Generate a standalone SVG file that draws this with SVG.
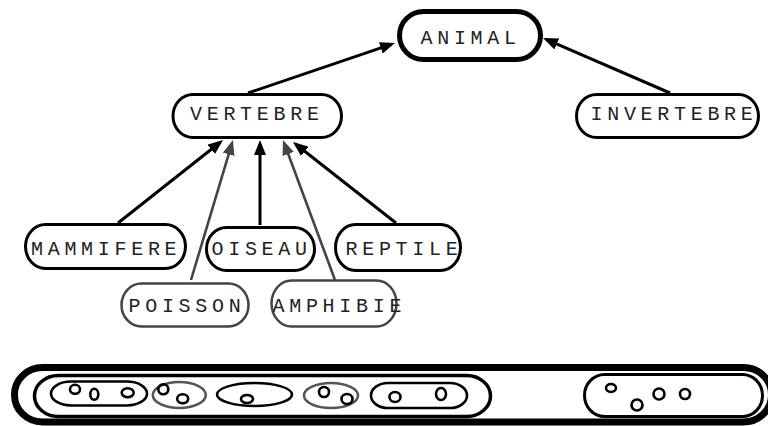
<svg xmlns="http://www.w3.org/2000/svg" width="768" height="426" viewBox="0 0 768 426">
<style>
.node{fill:#fff;stroke:#000;stroke-width:3}
.gnode{fill:#fff;stroke:#444;stroke-width:2.5}
.lbl{font-family:"Liberation Mono","DejaVu Sans Mono",monospace;font-size:20px;letter-spacing:4.7px;fill:#222}
.e{stroke:#000;stroke-width:3;fill:none}
.ge{stroke:#444;stroke-width:2.6;fill:none}
.bl{fill:none;stroke:#000;stroke-width:2.6}
.gr{fill:none;stroke:#555;stroke-width:2.6}
</style>
<defs>
<marker id="ab" markerUnits="userSpaceOnUse" markerWidth="15" markerHeight="12" refX="11" refY="6" orient="auto"><path d="M0,0 L15,6 L0,12 z" fill="#000"/></marker>
<marker id="ag" markerUnits="userSpaceOnUse" markerWidth="15" markerHeight="12" refX="11" refY="6" orient="auto"><path d="M0,0 L15,6 L0,12 z" fill="#444"/></marker>
</defs>
<g id="connectors">
<line class="e" x1="248" y1="93" x2="391.2" y2="44.3" marker-end="url(#ab)"/>
<line class="e" x1="670" y1="93" x2="546.7" y2="39.6" marker-end="url(#ab)"/>
<line class="e" x1="118" y1="223" x2="219.9" y2="142.5" marker-end="url(#ab)"/>
<line class="ge" x1="191" y1="280" x2="231.8" y2="143.8" marker-end="url(#ag)"/>
<line class="e" x1="260" y1="225" x2="260" y2="144" marker-end="url(#ab)"/>
<line class="ge" x1="335" y1="280" x2="284.4" y2="143.7" marker-end="url(#ag)"/>
<line class="e" x1="396" y1="223" x2="296.1" y2="144.5" marker-end="url(#ab)"/>
</g>
<g id="animal">
<rect x="399.5" y="11.5" width="141" height="48" rx="24" ry="24" fill="#fff" stroke="#000" stroke-width="5"/>
<text class="lbl" x="420.5" y="44">ANIMAL</text>
</g>
<g id="vertebre">
<rect class="node" x="173" y="94.5" width="168.5" height="43" rx="20" ry="21.5"/>
<text class="lbl" x="190" y="120">VERTEBRE</text>
</g>
<g id="invertebre">
<rect class="node" x="576.5" y="94.5" width="182" height="43" rx="20" ry="21.5"/>
<text class="lbl" x="590.5" y="120">INVERTEBRE</text>
</g>
<g id="mammifere">
<rect class="node" x="25.5" y="224.5" width="160" height="44" rx="20" ry="22"/>
<text class="lbl" x="31" y="255">MAMMIFERE</text>
</g>
<g id="oiseau">
<rect class="node" x="206.5" y="227.5" width="108" height="43" rx="20" ry="21.5"/>
<text class="lbl" x="211.5" y="255">OISEAU</text>
</g>
<g id="reptile">
<rect class="node" x="335.5" y="224.5" width="125" height="46" rx="20" ry="23"/>
<text class="lbl" x="345.5" y="255">REPTILE</text>
</g>
<g id="poisson">
<rect class="gnode" x="121.5" y="283.5" width="127" height="43" rx="20" ry="21.5"/>
<text class="lbl" x="128.5" y="312">POISSON</text>
</g>
<g id="amphibie">
<rect class="gnode" x="271.5" y="280.5" width="125" height="46" rx="20" ry="23"/>
<text class="lbl" x="272.5" y="312">AMPHIBIE</text>
</g>
<g id="bottom">
<rect x="14.5" y="367.5" width="757" height="54.5" rx="28" ry="27" fill="none" stroke="#000" stroke-width="7"/>
<rect x="34.5" y="375.5" width="456" height="41" rx="24" ry="20.5" fill="none" stroke="#000" stroke-width="3.5"/>
<rect x="584.5" y="374.5" width="178" height="42" rx="20" ry="21" fill="none" stroke="#000" stroke-width="3"/>
<rect class="bl" x="51" y="381.5" width="96" height="24" rx="20" ry="12"/>
<ellipse class="bl" cx="75" cy="389.3" rx="5" ry="4.5"/>
<ellipse class="bl" cx="94.3" cy="394.3" rx="4" ry="5.5"/>
<ellipse class="bl" cx="127.7" cy="392.7" rx="6" ry="4.5"/>
<ellipse class="gr" cx="179.3" cy="395" rx="26.5" ry="13"/>
<ellipse class="bl" cx="163.3" cy="389.3" rx="5" ry="5"/>
<ellipse class="bl" cx="182.7" cy="398.7" rx="5.5" ry="4.5"/>
<ellipse class="bl" cx="254.5" cy="394.5" rx="37.5" ry="11.5"/>
<ellipse class="bl" cx="247" cy="399" rx="6" ry="4"/>
<ellipse class="gr" cx="331" cy="395.5" rx="27" ry="12.5"/>
<ellipse class="bl" cx="324" cy="392" rx="5" ry="5"/>
<ellipse class="bl" cx="347" cy="399" rx="5.5" ry="5"/>
<rect class="bl" x="371" y="383" width="96" height="25" rx="17" ry="12.5"/>
<ellipse class="bl" cx="395" cy="397" rx="5.5" ry="5"/>
<ellipse class="bl" cx="441" cy="394" rx="5" ry="6"/>
<ellipse class="bl" cx="611" cy="388" rx="5" ry="4"/>
<ellipse class="bl" cx="637" cy="405" rx="5.5" ry="5.5"/>
<ellipse class="bl" cx="659" cy="394" rx="5.5" ry="5.5"/>
<ellipse class="bl" cx="685" cy="394" rx="5" ry="5"/>
</g>
</svg>
